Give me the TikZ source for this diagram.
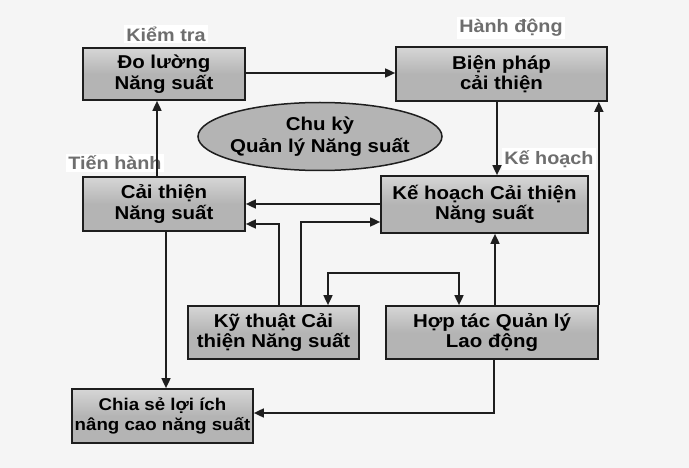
\documentclass[tikz,border=0pt]{standalone}
\usepackage{fontspec}
\setmainfont{Liberation Sans}[FakeStretch=1.1]
\usetikzlibrary{arrows.meta,shapes.geometric}
\definecolor{pagebg}{HTML}{F5F5F5}
\definecolor{boxfill}{HTML}{B4B4B4}
\definecolor{boxtop}{HTML}{D6D6D6}
\definecolor{edge}{HTML}{1E1E1E}
\definecolor{phase}{HTML}{6E6E6E}
\begin{document}
\begin{tikzpicture}[x=1pt,y=-1pt,
  stage/.style={draw=edge,line width=1.7pt,top color=boxtop,bottom color=boxfill,
    middle color=boxfill,shading angle=0,
    font=\fontsize{18.6}{20.5}\selectfont\bfseries,align=center,inner sep=0pt},
  cycle/.style={ellipse,draw=edge,line width=1.5pt,fill=boxfill,
    minimum width=244pt,minimum height=68pt,inner sep=0pt},
  cycletext/.style={font=\fontsize{18.6}{21.5}\selectfont\bfseries,align=center,inner sep=0pt},
  phase/.style={fill=white,text=phase,inner xsep=2pt,inner ysep=2pt,
    font=\fontsize{18}{19}\selectfont\bfseries},
  link/.style={draw=edge,line width=1.7pt,-{Triangle[length=10pt,width=9pt]}},
  bothway/.style={draw=edge,line width=1.7pt,{Triangle[length=10pt,width=9pt]}-{Triangle[length=10pt,width=9pt]}}]
\fill[pagebg] (0,0) rectangle (689,468);
\useasboundingbox (0,0) rectangle (689,468);

% stage boxes
\node[stage,minimum width=162pt,minimum height=52pt] (measure) at (164,74) {Đo lường\\Năng suất};
\node[stage,minimum width=211pt,minimum height=54pt] (action) at (501.5,74) {Biện pháp\\cải thiện};
\node[stage,minimum width=162pt,minimum height=54pt] (improve) at (164,204) {Cải thiện\\Năng suất};
\node[stage,minimum width=207pt,minimum height=57pt] (plan) at (484.5,204.5) {Kế hoạch Cải thiện\\Năng suất};
\node[stage,minimum width=171pt,minimum height=53pt] (tech) at (273.5,332.5) {Kỹ thuật Cải\\thiện Năng suất};
\node[stage,minimum width=212pt,minimum height=53pt] (labour) at (492,332.5) {Hợp tác Quản lý\\Lao động};
\node[stage,minimum width=181pt,minimum height=54pt,
  font=\fontsize{17}{20.5}\selectfont\bfseries] (share) at (162.5,416) {Chia sẻ lợi ích\\nâng cao năng suất};

% central cycle ellipse
\node[cycle] (cyc) at (320,136.5) {};
\node[cycletext] (cyctext) at (cyc.center) {Chu kỳ\\Quản lý Năng suất};

% phase labels
\node[phase] (lblcheck) at (166,34) {Kiểm tra};
\node[phase] (lblact) at (511,28) {Hành động};
\node[phase] (lbldo) at (115,163) {Tiến hành};
\node[phase] (lblplan) at (549,159) {Kế hoạch};

% connectors
\draw[link] (measure.east |- 0,73) -- (action.west |- 0,73);
\draw[link] (action.south -| 497,0) -- (plan.north -| 497,0);
\draw[link] (improve.north -| 157,0) -- (measure.south -| 157,0);
\draw[link] (plan.west |- 0,204) -- (improve.east |- 0,204);
\draw[link] (tech.north -| 279,0) |- (improve.east |- 0,224);
\draw[link] (tech.north -| 301,0) |- (plan.west |- 0,222);
\draw[link] (improve.south -| 166,0) -- (share.north -| 166,0);
\draw[bothway] (tech.north -| 328,0) |- (393,273) -| (labour.north -| 459,0);
\draw[link] (labour.north -| 495,0) -- (plan.south -| 495,0);
\draw[link] (labour.north east) -- (action.south -| labour.north east);
\draw[link] (labour.south -| 494,0) |- (share.east |- 0,413);
\end{tikzpicture}
\end{document}
